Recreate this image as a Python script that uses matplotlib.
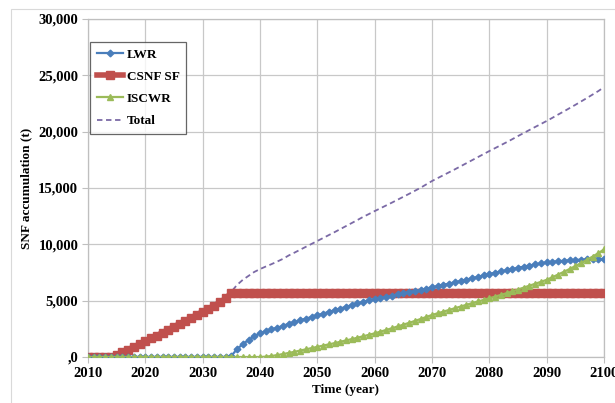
import matplotlib.pyplot as plt
from matplotlib.patches import Rectangle

plt.rcParams['font.family'] = ['Liberation Serif', 'DejaVu Serif']
plt.rcParams['font.weight'] = 'bold'

# yearly values (t)
years = list(range(2010, 2101))

lwr = [0, 0, 0, 0, 0, 0, 0, 0, 0, 0,
       0, 0, 0, 0, 0, 0, 0, 0, 0, 0,
       0, 0, 0, 0, 0, 100, 700, 1150, 1500, 1850,
       2100, 2300, 2450, 2600, 2750, 2950, 3100, 3250, 3400, 3550,
       3700, 3850, 4000, 4150, 4300, 4450, 4600, 4750, 4900, 5020,
       5150, 5250, 5350, 5450, 5550, 5650, 5750, 5850, 5950, 6070,
       6190, 6300, 6410, 6520, 6630, 6750, 6870, 6990, 7110, 7240,
       7370, 7480, 7590, 7700, 7810, 7920, 8020, 8120, 8220, 8310,
       8400, 8450, 8500, 8540, 8580, 8610, 8640, 8660, 8680, 8690,
       8700]

csnf = [0, 0, 0, 0, 30, 200, 420, 660, 900, 1150,
        1400, 1650, 1900, 2170, 2430, 2700, 2960, 3230, 3490, 3760,
        4020, 4290, 4560, 4850, 5200, 5700, 5700, 5700, 5700, 5700,
        5700, 5700, 5700, 5700, 5700, 5700, 5700, 5700, 5700, 5700,
        5700, 5700, 5700, 5700, 5700, 5700, 5700, 5700, 5700, 5700,
        5700, 5700, 5700, 5700, 5700, 5700, 5700, 5700, 5700, 5700,
        5700, 5700, 5700, 5700, 5700, 5700, 5700, 5700, 5700, 5700,
        5700, 5700, 5700, 5700, 5700, 5700, 5700, 5700, 5700, 5700,
        5700, 5700, 5700, 5700, 5700, 5700, 5700, 5700, 5700, 5700,
        5700]

iscwr = [0, 0, 0, 0, 0, 0, 0, 0, 0, 0,
         0, 0, 0, 0, 0, 0, 0, 0, 0, 0,
         0, 0, 0, 0, 0, 0, 0, 0, 0, 0,
         0, 30, 90, 170, 260, 360, 460, 570, 680, 790,
         900, 1010, 1120, 1230, 1350, 1470, 1590, 1710, 1840, 1970,
         2100, 2250, 2400, 2550, 2710, 2870, 3030, 3200, 3370, 3550,
         3730, 3880, 4030, 4180, 4330, 4480, 4630, 4780, 4930, 5070,
         5210, 5360, 5510, 5660, 5820, 5990, 6160, 6330, 6500, 6670,
         6850, 7080, 7320, 7560, 7810, 8070, 8340, 8620, 8910, 9210,
         9550]

# the dashed total is the sum of the three streams
total = [a + b + c for a, b, c in zip(lwr, csnf, iscwr)]

y_ticks = [0, 5000, 10000, 15000, 20000, 25000, 30000]
y_labels = [',0', '5,000', '10,000', '15,000', '20,000', '25,000', '30,000']
x_ticks = [2010, 2020, 2030, 2040, 2050, 2060, 2070, 2080, 2090, 2100]

fig = plt.figure(figsize=(6.15, 4.03), dpi=100)
# outer chart frame
fig.patches.append(Rectangle((11 / 615, -0.1), 1.2, 1 - 9 / 403 + 0.1,
                             transform=fig.transFigure, fill=False,
                             edgecolor='#d9d9d9', linewidth=0.8))
ax = fig.add_axes([88 / 615, 1 - 357 / 403, (604 - 88) / 615, (357 - 19) / 403])

ax.plot(years, csnf, color='#c0504d', marker='s', markersize=5.5, linewidth=4,
        label='CSNF SF', zorder=3)
ax.plot(years, lwr, color='#4a7ebb', marker='D', markersize=3.4, linewidth=1.6,
        label='LWR', zorder=4)
ax.plot(years, iscwr, color='#9bbb59', marker='^', markersize=5, linewidth=1.6,
        label='ISCWR', zorder=4)
ax.plot(years, total, color='#7b6aa6', linestyle=(0, (3, 2)), linewidth=1.3,
        label='Total', zorder=2)

ax.set_xlim(2010, 2100)
ax.set_ylim(0, 30000)
ax.set_xticks(x_ticks)
ax.set_yticks(y_ticks)
ax.set_yticklabels(y_labels)
ax.tick_params(labelsize=10.5, color='#bfbfbf', length=4, width=0.8, pad=3)
ax.grid(True, color='#c8c8c8', linewidth=0.9)
ax.set_axisbelow(True)
for s in ax.spines.values():
    s.set_color('#bfbfbf')
    s.set_linewidth(0.9)

ax.set_xlabel('Time (year)', fontsize=9.5, fontweight='bold', labelpad=3)
ax.set_ylabel('SNF accumulation (t)', fontsize=9.5, fontweight='bold', labelpad=4)

handles, labels = ax.get_legend_handles_labels()
order = [1, 0, 2, 3]
leg = ax.legend([handles[i] for i in order], [labels[i] for i in order],
                loc='upper left', bbox_to_anchor=(0.004, 0.932),
                borderaxespad=0,
                prop={'size': 9.5, 'weight': 'bold'}, frameon=True,
                fancybox=False, edgecolor='#404040', borderpad=0.5,
                labelspacing=0.75, handlelength=2.0, handletextpad=0.3)
leg.get_frame().set_linewidth(0.9)

fig.savefig('out.png', dpi=100)
